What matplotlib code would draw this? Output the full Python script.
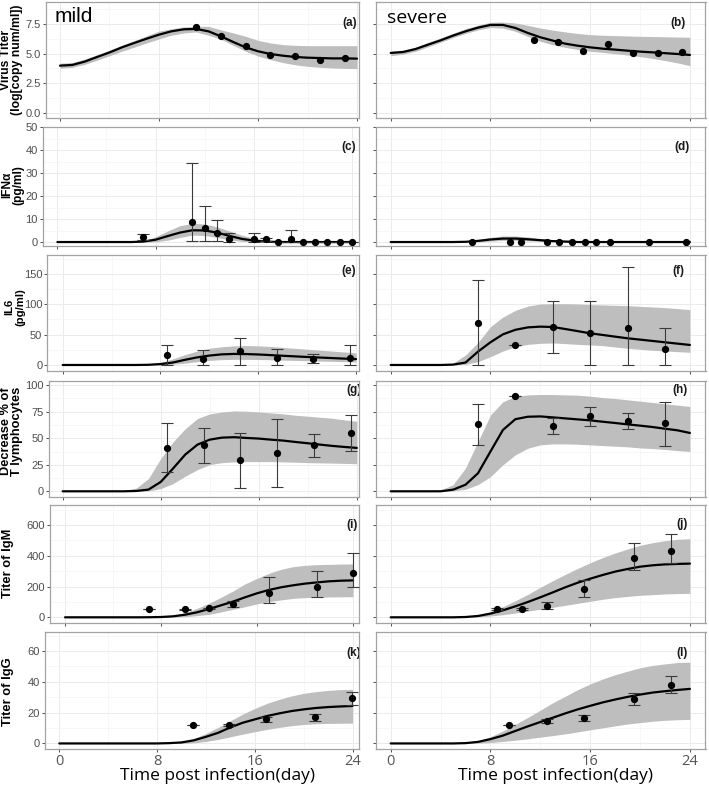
import matplotlib
matplotlib.use('Agg')
import matplotlib.pyplot as plt
import numpy as np

W, H = 709, 786
fig = plt.figure(figsize=(W / 100, H / 100), dpi=100)

days = list(range(25))

# ---------------- (a) mild virus titer ----------------
a_mean = [3.99, 4.05, 4.33, 4.72, 5.1, 5.53, 5.9, 6.26, 6.6, 6.88, 7.05, 7.08, 6.88, 6.46, 5.98, 5.53, 5.2, 4.97, 4.83, 4.72, 4.66, 4.63, 4.6, 4.6, 4.58]
a_hi = [4.2, 4.25, 4.55, 4.9, 5.3, 5.7, 6.1, 6.5, 6.9, 7.1, 7.25, 7.3, 7.3, 7.0, 6.75, 6.46, 6.12, 5.9, 5.76, 5.7, 5.67, 5.67, 5.67, 5.67, 5.67]
a_lo = [3.76, 3.85, 4.1, 4.45, 4.83, 5.2, 5.55, 5.9, 6.24, 6.55, 6.74, 6.83, 6.55, 6.22, 5.7, 5.2, 4.8, 4.5, 4.25, 4.06, 3.93, 3.85, 3.79, 3.76, 3.74]
a_px = [11, 13, 15, 17, 19, 21, 23]
a_py = [7.22, 6.46, 5.67, 4.92, 4.78, 4.47, 4.6]

# ---------------- (b) severe virus titer ----------------
b_mean = [5.06, 5.14, 5.39, 5.76, 6.12, 6.52, 6.88, 7.19, 7.42, 7.42, 7.16, 6.74, 6.38, 6.1, 5.84, 5.67, 5.53, 5.42, 5.34, 5.25, 5.17, 5.11, 5.04, 4.97, 4.89]
b_hi = [5.2, 5.3, 5.55, 5.95, 6.32, 6.72, 7.1, 7.4, 7.64, 7.66, 7.58, 7.38, 7.16, 6.98, 6.83, 6.7, 6.6, 6.55, 6.52, 6.49, 6.46, 6.44, 6.42, 6.4, 6.38]
b_lo = [4.83, 4.95, 5.2, 5.58, 5.96, 6.35, 6.7, 7.0, 7.2, 7.15, 6.88, 6.45, 6.04, 5.75, 5.53, 5.35, 5.2, 5.1, 5.0, 4.88, 4.75, 4.6, 4.42, 4.22, 3.99]
b_px = [11.46, 13.45, 15.43, 17.44, 19.42, 21.4, 23.39]
b_py = [6.12, 5.96, 5.25, 5.81, 5.06, 5.06, 5.11]

# ---------------- (c) mild IFN-alpha ----------------
c_mean = [0.2, 0.2, 0.2, 0.2, 0.2, 0.2, 0.2, 0.4, 1.2, 2.8, 4.3, 5.3, 5.2, 4.3, 2.9, 1.6, 0.8, 0.4, 0.2, 0.2, 0.2, 0.2, 0.2, 0.2, 0.2]
c_hi = [0.25, 0.25, 0.25, 0.25, 0.25, 0.25, 0.25, 0.6, 2.5, 5.0, 7.3, 8.3, 8.0, 6.8, 5.0, 3.2, 1.9, 1.0, 0.5, 0.3, 0.3, 0.3, 0.3, 0.3, 0.3]
c_lo = [0.15, 0.15, 0.15, 0.15, 0.15, 0.15, 0.15, 0.15, 0.3, 1.0, 2.2, 3.2, 3.0, 2.2, 1.2, 0.5, 0.2, 0.15, 0.15, 0.15, 0.15, 0.15, 0.15, 0.15, 0.15]
c_px = [7, 11, 12, 13, 14, 16, 17, 18, 19, 20, 21, 22, 23, 24]
c_py = [2.2, 9.0, 6.4, 3.9, 1.7, 1.3, 1.3, 0.3, 1.4, 0.15, 0.3, 0.4, 0.3, 0.2]
c_plo = [1.0, 0.7, 0.7, 0.7, 0.4, 0.0, 0.8, 0.3, 0.0, 0.15, 0.3, 0.4, 0.3, 0.2]
c_phi = [3.6, 34.3, 15.8, 9.7, 3.9, 4.2, 1.8, 0.3, 5.4, 0.15, 0.3, 0.4, 0.3, 0.2]

# ---------------- (d) severe IFN-alpha ----------------
d_mean = [0.2, 0.2, 0.2, 0.2, 0.2, 0.2, 0.3, 0.7, 1.3, 1.7, 1.7, 1.4, 1.0, 0.6, 0.4, 0.2, 0.2, 0.2, 0.2, 0.2, 0.2, 0.2, 0.2, 0.2, 0.2]
d_hi = [0.25, 0.25, 0.25, 0.25, 0.25, 0.25, 0.5, 1.2, 2.2, 2.8, 2.8, 2.4, 1.7, 1.1, 0.7, 0.4, 0.3, 0.3, 0.3, 0.3, 0.3, 0.3, 0.3, 0.3, 0.3]
d_lo = [0.15, 0.15, 0.15, 0.15, 0.15, 0.15, 0.15, 0.15, 0.6, 0.9, 0.9, 0.7, 0.5, 0.3, 0.15, 0.15, 0.15, 0.15, 0.15, 0.15, 0.15, 0.15, 0.15, 0.15, 0.15]
d_px = [6.5, 9.54, 10.45, 12.5, 13.5, 14.52, 15.6, 16.47, 17.55, 20.7, 23.65]
d_py = [0.3, 0.2, 0.2, 0.2, 0.2, 0.2, 0.2, 0.2, 0.2, 0.2, 0.2]

# ---------------- (e) mild IL6 ----------------
e_mean = [0, 0, 0, 0, 0, 0, 0, 0.3, 1.5, 4, 8.5, 12.5, 15.5, 17.5, 18.2, 18, 17.3, 16.3, 15.2, 14.2, 13.2, 12.3, 11.4, 10.5, 9.7]
e_hi = [0, 0, 0, 0, 0, 0, 0, 1, 4, 10, 17, 23, 27.5, 30, 31.5, 32, 31.5, 30.5, 29, 27.5, 26, 24.5, 23, 21.5, 20]
e_lo = [0, 0, 0, 0, 0, 0, 0, 0, 0.3, 1.2, 3, 5.5, 7.5, 8.8, 9.3, 9.3, 9, 8.6, 8, 7.5, 7, 6.5, 6, 5.5, 5]
e_px = [8.5, 11.5, 14.5, 17.5, 20.5, 23.5]
e_py = [16.7, 9.4, 23.3, 11.1, 9.4, 12.2]
e_plo = [0, 0, 0, 0, 2.8, 0]
e_phi = [33.3, 23.9, 44.4, 26.7, 17.8, 32.2]

# ---------------- (f) severe IL6 ----------------
f_mean = [0, 0, 0, 0, 0, 0.6, 4, 22, 37.4, 50.5, 58, 62, 63.2, 62.6, 59.3, 55.8, 52.2, 49.5, 46.7, 44, 41.8, 39.6, 37.4, 35.2, 33]
f_hi = [0, 0, 0, 0, 0, 3, 16.5, 37, 63, 79, 90, 97, 100.5, 101, 101, 100.5, 99.5, 99, 98.4, 97.8, 96.7, 95.6, 94.5, 92.9, 91.2]
f_lo = [0, 0, 0, 0, 0, 0, 1, 5.5, 13.7, 23, 30, 34, 35.7, 36.3, 35.2, 34, 33, 31.9, 29.7, 27.5, 25.8, 24.2, 23, 22, 20.9]
f_px = [7, 10, 13, 16, 19, 22]
f_py = [69.2, 33.5, 62.6, 52.2, 61.5, 26.4]
f_plo = [0, 33.5, 19.8, 0, 0, 0]
f_phi = [140, 33.5, 105.5, 105, 161.5, 60.4]

# ---------------- (g) mild T lymphocytes ----------------
g_mean = [0, 0, 0, 0, 0, 0, 0.3, 1.6, 8.8, 21.4, 34.6, 44, 48.7, 50.6, 51, 50.3, 49.7, 48.7, 47.8, 46.5, 45.3, 44, 42.8, 41.8, 40.9]
g_hi = [0, 0, 0, 0, 0, 0.6, 3, 12, 30.8, 46.5, 59, 68.6, 73, 74.8, 75.8, 75.5, 74.8, 73.9, 73, 71.7, 70.8, 69.8, 68.9, 67.3, 66]
g_lo = [0, 0, 0, 0, 0, 0, 0, 0.3, 2.5, 7.2, 14.2, 20.4, 25.2, 27, 27.7, 28, 28, 28, 27.7, 27.4, 27, 26.8, 26.6, 26.3, 26]
g_px = [8.5, 11.5, 14.5, 17.5, 20.5, 23.5]
g_py = [41.2, 44, 29.2, 36.2, 43.4, 55.3]
g_plo = [18.2, 27, 3.5, 4.1, 32.4, 38.4]
g_phi = [64.5, 59.7, 55.3, 68.6, 53.8, 72.3]

# ---------------- (h) severe T lymphocytes ----------------
h_mean = [0, 0, 0, 0, 0, 1.5, 6.2, 17, 37.5, 57.8, 68, 70.3, 70.6, 69.7, 68.75, 67.8, 66.9, 65.6, 64.4, 63.1, 61.9, 60.6, 59, 57.5, 55]
h_hi = [0, 0, 0, 0, 1.2, 6.25, 21.9, 46.9, 71.9, 84.4, 89.4, 90.9, 91.25, 91.25, 90.9, 90.6, 89.7, 88.4, 87.5, 86.25, 85, 83.75, 82.5, 81.25, 80]
h_lo = [0, 0, 0, 0, 0, 0.3, 1.9, 6.25, 13.75, 25, 34.4, 40.6, 43.75, 44.7, 44.7, 44.4, 43.75, 43.1, 42.5, 41.9, 40.9, 40.3, 39.4, 38.4, 37.5]
h_px = [7, 10, 13, 16, 19, 22]
h_py = [63.75, 90, 61.9, 70.6, 66.25, 64]
h_plo = [43.75, 90, 54, 61.6, 58.4, 42.8]
h_phi = [82.2, 90, 69.4, 79.7, 74, 84]

# ---------------- (i) mild IgM ----------------
i_mean = [0, 0, 0, 0, 0, 0, 0, 0.5, 2, 6.5, 17, 32.5, 54, 78, 102, 130, 156, 178, 195, 208, 219, 227, 234, 238, 240]
i_hi = [0, 0, 0, 0, 0, 0, 0, 0.5, 3, 11, 30, 58, 91, 130, 171, 217, 253, 286, 312, 329, 338, 342, 344, 346, 347]
i_lo = [0, 0, 0, 0, 0, 0, 0, 0, 0, 1, 4, 11, 19.5, 35, 52, 69, 87, 102, 113, 123, 128, 130, 132, 133, 134]
i_px = [7, 10, 12, 14, 17, 21, 24]
i_py = [56.3, 52, 58.5, 86.6, 156, 199, 286]
i_plo = [56.3, 48, 56, 65, 91, 130, 199]
i_phi = [56.3, 56, 61, 108, 260, 303, 416]

# ---------------- (j) severe IgM ----------------
j_mean = [0, 0, 0, 0, 0, 0, 2, 8.7, 24, 45.5, 71.5, 99.6, 130, 162, 195, 225, 251, 275, 297, 314, 329, 338, 344, 347, 349]
j_hi = [0, 0, 0, 0, 0, 0, 4, 15, 37, 69, 108, 149, 195, 238, 279, 318, 355, 388, 418, 444, 468, 485, 498, 507, 511]
j_lo = [0, 0, 0, 0, 0, 0, 0, 2, 8.7, 17, 28, 41, 52, 65, 78, 91, 104, 117, 128, 136, 143, 147, 152, 154, 156]
j_px = [8.5, 10.5, 12.5, 15.5, 19.5, 22.5]
j_py = [54, 54, 76, 182, 383, 431]
j_plo = [50, 50, 56, 130, 307, 351]
j_phi = [58, 58, 97.5, 243, 481, 541]

# ---------------- (k) mild IgG ----------------
k_mean = [0, 0, 0, 0, 0, 0, 0, 0, 0, 0.2, 0.65, 2, 4.3, 6.9, 10.4, 13.4, 15.6, 17.8, 19.5, 21, 22.1, 23, 23.6, 24, 24.3]
k_hi = [0, 0, 0, 0, 0, 0, 0, 0, 0, 0.4, 1.3, 3.2, 6.5, 10.4, 14.7, 19, 22.7, 26, 28.6, 30.8, 32.5, 33.6, 34.4, 34.9, 35.1]
k_lo = [0, 0, 0, 0, 0, 0, 0, 0, 0, 0, 0, 0.4, 1.3, 2.6, 4.3, 6, 7.6, 9.1, 10.4, 11.5, 12.3, 12.8, 13, 13.1, 13.2]
k_px = [10.96, 13.9, 16.88, 20.94, 23.92]
k_py = [11.9, 11.9, 15.6, 16.9, 29.2]
k_plo = [11.9, 11.3, 13.9, 14.7, 24.9]
k_phi = [11.9, 12.5, 17.3, 18.8, 33.6]

# ---------------- (l) severe IgG ----------------
l_mean = [0, 0, 0, 0, 0, 0, 0.2, 1, 2.8, 5.1, 8.1, 11.1, 13.9, 16.7, 19.5, 22.1, 24.4, 26.6, 28.5, 30.2, 31.7, 33, 33.9, 34.7, 35.4]
l_hi = [0, 0, 0, 0, 0, 0, 0.4, 1.7, 4.3, 8.1, 12.4, 16.9, 21.6, 26.4, 30.6, 34.9, 38.6, 41.8, 44.6, 46.9, 49.1, 50.6, 51.6, 52.5, 52.7]
l_lo = [0, 0, 0, 0, 0, 0, 0, 0.2, 0.6, 1.3, 2.1, 3, 4.1, 5.1, 6.2, 7.5, 8.8, 10.1, 11.4, 12.6, 13.5, 14.4, 15, 15.4, 15.6]
l_px = [9.5, 12.5, 15.5, 19.5, 22.5]
l_py = [12, 14.6, 16.3, 28.9, 38.1]
l_plo = [12, 13.1, 14.4, 25.1, 32.8]
l_phi = [12, 16.1, 18.2, 32.8, 43.9]

# y-axis titles: one list of lines per row
ylabels = [["Virus Titer", "(log[copy num/ml])"], ["IFN\u03b1", "(pg/ml)"], ["IL6", "(pg/ml)"],
           ["Decrease % of", "T lymphocytes"], ["Titer of IgM"], ["Titer of IgG"]]
yticks = [[0, 2.5, 5, 7.5], [0, 10, 20, 30, 40, 50], [0, 50, 100, 150],
          [0, 25, 50, 75, 100], [0, 200, 400, 600], [0, 20, 40, 60]]
yticklabels = [["0.0", "2.5", "5.0", "7.5"], ["0", "10", "20", "30", "40", "50"],
               ["0", "50", "100", "150"], ["0", "25", "50", "75", "100"],
               ["0", "200", "400", "600"], ["0", "20", "40", "60"]]
yminor = [[1.25, 3.75, 6.25, 8.75], [5, 15, 25, 35, 45], [25, 75, 125, 175],
          [12.5, 37.5, 62.5, 87.5], [100, 300, 500, 700], [10, 30, 50, 70]]
xticks = [0, 8, 16, 24]
xminor = [4, 12, 20]
tags = [["(a)", "(b)"], ["(c)", "(d)"], ["(e)", "(f)"], ["(g)", "(h)"], ["(i)", "(j)"], ["(k)", "(l)"]]

panels = [
    [(a_mean, a_lo, a_hi, a_px, a_py, None, None), (b_mean, b_lo, b_hi, b_px, b_py, None, None)],
    [(c_mean, c_lo, c_hi, c_px, c_py, c_plo, c_phi), (d_mean, d_lo, d_hi, d_px, d_py, None, None)],
    [(e_mean, e_lo, e_hi, e_px, e_py, e_plo, e_phi), (f_mean, f_lo, f_hi, f_px, f_py, f_plo, f_phi)],
    [(g_mean, g_lo, g_hi, g_px, g_py, g_plo, g_phi), (h_mean, h_lo, h_hi, h_px, h_py, h_plo, h_phi)],
    [(i_mean, i_lo, i_hi, i_px, i_py, i_plo, i_phi), (j_mean, j_lo, j_hi, j_px, j_py, j_plo, j_phi)],
    [(k_mean, k_lo, k_hi, k_px, k_py, k_plo, k_phi), (l_mean, l_lo, l_hi, l_px, l_py, l_plo, l_phi)],
]

# ---------------- layout (pixels) ----------------
rows = [(2, 118), (127, 245.5), (255, 370.5), (381, 496.7), (505, 622.7), (632, 749.3)]
left_edges = [46, 43, 47.4, 48.7, 50, 45]
left_right = 359
right_col = (376, 705.5)
left_xlims = [(-1.13, 24.16), (-1.17, 24.58), (-1.25, 24.24), (-1.14, 24.18), (-1.25, 24.5), (-1.17, 24.53)]
right_xlim = (-1.18, 25.25)
ylims = [(-0.42, 9.35), (-1.3, 50.0), (-9.1, 181.3), (-5.1, 104.0), (-35, 730), (-3.8, 72.3)]
# x centres (px) of each label line, y centre and font size per row
ylab_xs = [[6.5, 17], [7, 18], [9.5, 20], [6.5, 17.5], [8], [8]]
ylab_y = [60, 185, 307, 431, 563, 692]
ylab_fs = [8.8, 8.6, 8.2, 9.2, 9.3, 9.3]
tag_pos = [[(357, 23), (686, 23)], [(356, 147), (690, 147)], [(356, 271), (684, 271)],
           [(362, 390), (688, 390)], [(358, 525), (688, 524)], [(361, 653), (688, 653)]]

RIB = '#BEBEBE'
BORDER = '#A3A3A3'
TICKC = '#4D4D4D'


def px2fig(x, y):
    return x / W, 1 - y / H


for r in range(6):
    for c in range(2):
        if c == 0:
            x0, x1 = left_edges[r], left_right
            xl = left_xlims[r]
        else:
            x0, x1 = right_col
            xl = right_xlim
        y0, y1 = rows[r]
        ax = fig.add_axes([x0 / W, 1 - y1 / H, (x1 - x0) / W, (y1 - y0) / H])
        mean, lo, hi, px, py, plo, phi = panels[r][c]
        ax.fill_between(days, lo, hi, color=RIB, lw=0, zorder=2)
        ax.plot(days, mean, color='black', lw=1.6, zorder=3, solid_capstyle='round',
                solid_joinstyle='round')
        if plo is not None:
            py_a = np.array(py, dtype=float)
            yerr = [py_a - np.array(plo), np.array(phi) - py_a]
            ax.errorbar(px, py, yerr=yerr, fmt='none', ecolor='#3A3A3A', elinewidth=0.8,
                        capsize=4.2, capthick=0.8, zorder=4)
        ax.plot(px, py, 'o', color='black', ms=4.2, zorder=5)

        ax.set_xlim(*xl)
        ax.set_ylim(*ylims[r])
        ax.set_xticks(xticks)
        ax.set_xticks(xminor, minor=True)
        ax.set_yticks(yticks[r])
        ax.set_yticks(yminor[r], minor=True)
        ax.set_axisbelow(True)
        ax.grid(which='major', color='#EBEBEB', lw=0.7, zorder=0)
        ax.grid(which='minor', color='#F4F4F4', lw=0.5, zorder=0)
        ax.tick_params(which='minor', length=0)
        ax.tick_params(which='major', length=2.5, width=0.6, color='#333333')
        for s in ax.spines.values():
            s.set_color(BORDER)
            s.set_linewidth(0.9)
        if c == 0:
            ax.set_yticklabels(yticklabels[r], fontsize=8, color=TICKC, family='Liberation Sans')
            ax.tick_params(axis='y', pad=1.2)
        else:
            ax.set_yticklabels([])
        if r == 5:
            ax.set_xticklabels([str(t) for t in xticks], fontsize=10.5, color='#555555', family='Open Sans')
            ax.tick_params(axis='x', pad=1)
        else:
            ax.set_xticklabels([])
        tx, ty = tag_pos[r][c]
        fx, fy = px2fig(tx, ty)
        t = fig.text(fx, fy, tags[r][c], ha='right', va='center', fontsize=8.5,
                     fontweight='bold', family='Liberation Sans', color='#1A1A1A')
        if r in (3, 5) and c == 0:
            t.set_clip_on(True)
            t.set_clip_box(ax.bbox)

    for line, lx in zip(ylabels[r], ylab_xs[r]):
        fx, fy = px2fig(lx, ylab_y[r])
        fig.text(fx, fy, line, rotation=90, ha='center', va='center', fontsize=ylab_fs[r],
                 fontweight='bold', family='Liberation Sans')

fx, fy = px2fig(55, 17)
fig.text(fx, fy, "mild", ha='left', va='center', fontsize=15, family='Liberation Sans')
fx, fy = px2fig(387, 18)
fig.text(fx, fy, "severe", ha='left', va='center', fontsize=14, family='Open Sans')

for xc in (217, 555):
    fx, fy = px2fig(xc, 776)
    fig.text(fx, fy, "Time post infection(day)", ha='center', va='center', fontsize=12.5,
             family='Open Sans')

fig.savefig('out.png', dpi=100, facecolor='white')
